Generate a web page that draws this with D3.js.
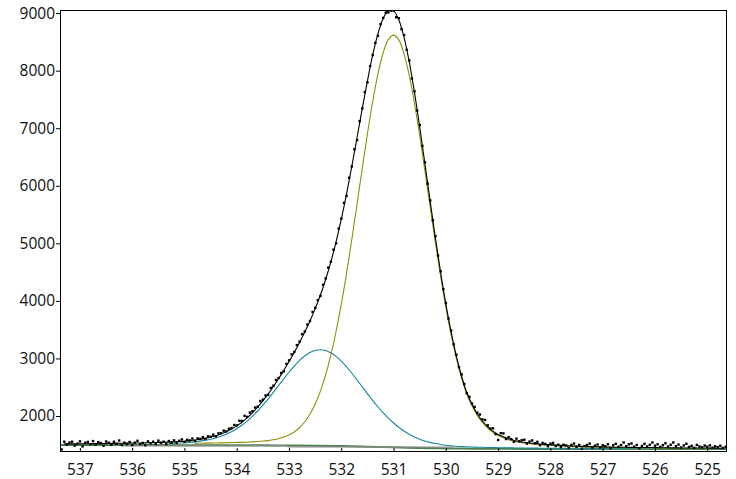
<!DOCTYPE html>
<html>
<head>
<meta charset="utf-8">
<script src="https://cdn.jsdelivr.net/npm/d3@7"></script>
<style>
  body { margin: 0; background: #fff; }
  svg text { font-family: "Open Sans", "Noto Sans", sans-serif; font-size: 15.5px; fill: #111; }
</style>
</head>
<body>
<svg id="chart" width="736" height="479"></svg>
<script>
// Binding energy (eV) axis runs right to left
var xDomain = [537.38, 524.64];
var yDomain = [1392, 9049];
var xTicks = [537, 536, 535, 534, 533, 532, 531, 530, 529, 528, 527, 526, 525];
var yTicks = [2000, 3000, 4000, 5000, 6000, 7000, 8000, 9000];

// measured counts, 0.05 eV steps starting at 537.35 eV
var countsStart = 537.35, countsStep = 0.05;
var counts = [
  1420, 1555, 1504, 1541, 1555, 1487, 1522, 1561, 1473, 1537,
  1551, 1511, 1566, 1501, 1548, 1531, 1484, 1558, 1538, 1502,
  1555, 1520, 1576, 1498, 1539, 1513, 1551, 1497, 1538, 1571,
  1513, 1534, 1494, 1561, 1528, 1555, 1515, 1574, 1536, 1555,
  1515, 1567, 1537, 1579, 1534, 1571, 1595, 1552, 1589, 1577,
  1610, 1568, 1613, 1603, 1633, 1606, 1649, 1643, 1678, 1648,
  1702, 1703, 1747, 1734, 1781, 1793, 1845, 1838, 1919, 1916,
  2004, 1987, 2061, 2085, 2149, 2163, 2262, 2287, 2360, 2369,
  2489, 2529, 2627, 2661, 2749, 2778, 2908, 2968, 3073, 3114,
  3234, 3294, 3424, 3469, 3591, 3653, 3809, 3881, 4014, 4088,
  4282, 4392, 4580, 4683, 4892, 5002, 5259, 5431, 5704, 5827,
  6140, 6337, 6636, 6796, 7124, 7347, 7630, 7799, 8081, 8274,
  8484, 8609, 8810, 8918, 9010, 9014, 9045, 9046, 8930, 8914,
  8725, 8619, 8365, 8181, 7865, 7643, 7310, 7058, 6695, 6409,
  6040, 5748, 5400, 5126, 4790, 4517, 4205, 3964, 3695, 3489,
  3248, 3065, 2850, 2724, 2560, 2397, 2335, 2218, 2160, 2059,
  2028, 1943, 1932, 1840, 1785, 1788, 1688, 1585, 1704, 1700,
  1601, 1634, 1601, 1554, 1608, 1563, 1581, 1590, 1523, 1557,
  1577, 1528, 1553, 1494, 1535, 1517, 1479, 1522, 1534, 1481,
  1503, 1460, 1502, 1490, 1447, 1500, 1523, 1467, 1500, 1433,
  1480, 1498, 1522, 1452, 1486, 1506, 1454, 1493, 1477, 1511,
  1440, 1494, 1518, 1468, 1497, 1542, 1476, 1510, 1524, 1469,
  1498, 1443, 1482, 1517, 1472, 1502, 1541, 1486, 1510, 1464,
  1493, 1528, 1472, 1502, 1542, 1477, 1506, 1455, 1490, 1520,
  1464, 1484, 1449, 1499, 1473, 1458, 1488, 1468, 1492, 1452,
  1476, 1461, 1486, 1446, 1466
];

// fitted curves, 0.1 eV steps
var curveStep = 0.1;
var envelopeStart = 537.3;
var envelope = [
  1515, 1516, 1517, 1517, 1519, 1519, 1521, 1521, 1523, 1524,
  1525, 1526, 1528, 1530, 1530, 1532, 1535, 1538, 1541, 1543,
  1547, 1551, 1556, 1562, 1572, 1582, 1595, 1611, 1631, 1656,
  1688, 1726, 1773, 1828, 1891, 1967, 2055, 2153, 2262, 2379,
  2509, 2646, 2793, 2943, 3104, 3274, 3454, 3648, 3861, 4098,
  4367, 4673, 5022, 5416, 5852, 6327, 6826, 7332, 7819, 8264,
  8634, 8903, 9044, 9039, 8884, 8584, 8156, 7628, 7028, 6389,
  5738, 5101, 4502, 3954, 3469, 3050, 2699, 2412, 2208, 2039,
  1913, 1815, 1738, 1680, 1640, 1604, 1579, 1558, 1545, 1532,
  1523, 1514, 1507, 1502, 1496, 1490, 1485, 1480, 1477, 1473,
  1468, 1467, 1466, 1463, 1461, 1459, 1458, 1457, 1455, 1454,
  1453, 1452, 1452, 1451, 1449, 1448, 1447, 1447, 1445, 1445,
  1444, 1444, 1443, 1443, 1442, 1441, 1441
];

// component at 532.4 eV (teal)
var peakAStart = 535.3;
var peakA = [
  1523, 1526, 1530, 1535, 1542, 1551, 1563, 1577, 1595, 1618,
  1647, 1683, 1727, 1780, 1840, 1912, 1995, 2087, 2188, 2295,
  2410, 2528, 2646, 2760, 2867, 2963, 3042, 3102, 3139, 3151,
  3137, 3098, 3036, 2955, 2856, 2747, 2630, 2510, 2389, 2272,
  2161, 2058, 1964, 1879, 1804, 1739, 1683, 1636, 1598, 1567,
  1542, 1521, 1506, 1493, 1483, 1475, 1469, 1465, 1461, 1458,
  1456, 1454, 1451, 1449, 1448, 1446, 1445, 1444, 1444, 1442,
  1442, 1441, 1441, 1441, 1439, 1438, 1437, 1437, 1437, 1436,
  1436, 1436, 1436, 1436, 1435, 1434, 1434, 1434, 1433, 1433,
  1433, 1433, 1433, 1433, 1432, 1431, 1431, 1431, 1430, 1430,
  1430, 1430, 1430, 1430, 1430, 1429, 1429
];

// component at 531.0 eV (olive)
var peakBStart = 534.8;
var peakB = [
  1525, 1526, 1528, 1529, 1531, 1534, 1536, 1539, 1541, 1542,
  1546, 1551, 1557, 1565, 1573, 1588, 1606, 1635, 1670, 1723,
  1796, 1896, 2029, 2204, 2428, 2710, 3054, 3464, 3938, 4471,
  5054, 5668, 6292, 6898, 7458, 7937, 8307, 8540, 8618, 8535,
  8297, 7922, 7438, 6874, 6264, 5636, 5018, 4433, 3897, 3421,
  3009, 2663, 2380, 2179, 2013, 1888, 1792, 1717, 1661, 1622,
  1587, 1563, 1543, 1530, 1518, 1509, 1501, 1494, 1489, 1485,
  1479, 1475, 1470, 1467, 1464, 1459, 1458, 1457, 1454, 1453,
  1451, 1450, 1449, 1448, 1447, 1446, 1445, 1445, 1444, 1443,
  1442, 1441, 1441, 1440, 1440, 1439, 1439, 1438, 1438, 1437,
  1437, 1437
];

// Shirley background
var bgEnergy = [537.38, 536, 535, 534, 533.5, 533, 532.5, 532, 531.5, 531, 530.5, 530, 529.5, 529, 528, 527, 526, 524.64];
var bgCounts = [1496, 1495, 1494, 1493, 1491, 1487, 1482, 1477, 1468, 1458, 1444, 1436, 1432, 1430, 1428, 1427, 1426, 1425];

// region marker
var regionEnergy = [536.2, 533.05, 533.0, 529.85];
var regionCounts = [1481, 1480, 1462, 1458];

var plotLeft = 60, plotTop = 10.3, plotRight = 726, plotBottom = 451;

var svg = d3.select('#chart');
var x = d3.scaleLinear().domain(xDomain).range([plotLeft, plotRight]);
var y = d3.scaleLinear().domain(yDomain).range([plotBottom, plotTop]);

function series(start, step, values) {
    return values.map((v, i) => [start - i * step, v]);
}

svg.append('clipPath').attr('id', 'plotclip')
    .append('rect').attr('x', plotLeft).attr('y', plotTop)
    .attr('width', plotRight - plotLeft).attr('height', plotBottom - plotTop);

var plot = svg.append('g').attr('clip-path', 'url(#plotclip)');

var line = d3.line()
    .x((d) => x(d[0]))
    .y((d) => y(d[1]))
    .curve(d3.curveCatmullRom.alpha(0.5));

// background first, then components, envelope, points
plot.append('path')
    .datum(bgEnergy.map((e, i) => [e, bgCounts[i]]))
    .attr('d', d3.line().x((d) => x(d[0])).y((d) => y(d[1])).curve(d3.curveMonotoneX))
    .attr('fill', 'none').attr('stroke', '#4c7f4c').attr('stroke-width', 2);

plot.append('path')
    .datum(regionEnergy.map((e, i) => [e, regionCounts[i]]))
    .attr('d', d3.line().x((d) => x(d[0])).y((d) => y(d[1])))
    .attr('fill', 'none').attr('stroke', '#8e8e8e').attr('stroke-width', 1.2);

plot.append('path')
    .datum(series(peakAStart, curveStep, peakA))
    .attr('d', line)
    .attr('fill', 'none').attr('stroke', '#17879b').attr('stroke-width', 1.1);

plot.append('path')
    .datum(series(peakBStart, curveStep, peakB))
    .attr('d', line)
    .attr('fill', 'none').attr('stroke', '#8f8f05').attr('stroke-width', 1.1);

plot.append('path')
    .datum(series(envelopeStart, curveStep, envelope))
    .attr('d', line)
    .attr('fill', 'none').attr('stroke', '#000').attr('stroke-width', 1.1);

plot.selectAll('rect.pt')
    .data(series(countsStart, countsStep, counts))
    .enter().append('rect').classed('pt', true)
    .attr('x', (d) => x(d[0]) - 1.1)
    .attr('y', (d) => y(d[1]) - 1.1)
    .attr('width', 2.4)
    .attr('height', 2.4)
    .attr('fill', '#000');

// frame
svg.append('rect')
    .attr('x', plotLeft + 0.5).attr('y', Math.round(plotTop) + 0.5)
    .attr('width', plotRight - plotLeft).attr('height', plotBottom - Math.round(plotTop))
    .attr('fill', 'none').attr('stroke', '#000');

// axes
var yAxis = svg.append('g')
    .attr('transform', 'translate(' + plotLeft + ',0)')
    .call(d3.axisLeft(y).tickValues(yTicks).tickFormat(d3.format('d')).tickSizeInner(4).tickSizeOuter(0).tickPadding(1));

var xAxis = svg.append('g')
    .attr('transform', 'translate(0,' + plotBottom + ')')
    .call(d3.axisBottom(x).tickValues(xTicks).tickFormat(d3.format('d')).tickSizeInner(-3).tickSizeOuter(0).tickPadding(13));

[yAxis, xAxis].forEach((g) => {
    g.attr('font-family', null).attr('font-size', null);
    g.selectAll('.domain').attr('stroke', '#000');
    g.selectAll('.tick line').attr('stroke', '#000');
    g.selectAll('text').style('fill', '#111');
});
</script>
</body>
</html>
